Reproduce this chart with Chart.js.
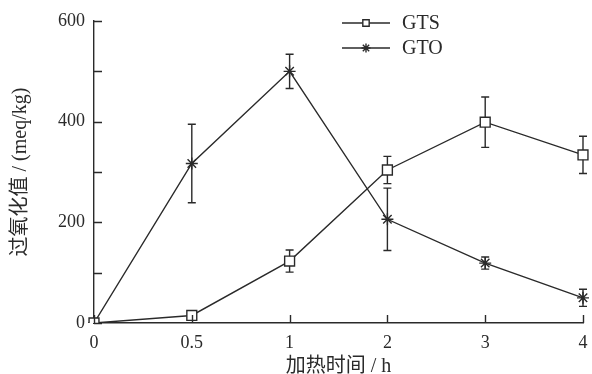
<!DOCTYPE html>
<html><head><meta charset="utf-8">
<script src="https://cdn.jsdelivr.net/npm/chart.js@4/dist/chart.umd.min.js"></script>
<style>html,body{margin:0;padding:0;background:#fff;overflow:hidden}canvas{display:block}</style>
</head><body><canvas id="c" width="592" height="374"></canvas>
<script>
const categories = ['0', '0.5', '1', '2', '3', '4'];
const seriesNames = ['GTS', 'GTO'];
const gtsValues = [0, 15, 123, 304, 399, 334];
const gtsErrors = [0, 5, 22, 27, 50, 37];
const gtoValues = [0, 317, 500, 206, 119, 50];
const gtoErrors = [0, 78, 34, 62, 12, 17];
const yTicks = [0, 200, 400, 600];

const INK = '#2a2a2a';
const FONT = "'Liberation Serif','Noto Sans CJK SC',serif";

const errorBars = {
  id: 'errorBars',
  beforeDatasetsDraw(chart) {
    const ctx = chart.ctx, y = chart.scales.y;
    const errs = [gtsErrors, gtoErrors];
    ctx.save();
    ctx.strokeStyle = INK; ctx.lineWidth = 1.4;
    chart.data.datasets.forEach((ds, i) => {
      const meta = chart.getDatasetMeta(i);
      meta.data.forEach((pt, j) => {
        const e = errs[i][j]; if (!e) return;
        const v = ds.data[j];
        const yt = y.getPixelForValue(v + e), yb = y.getPixelForValue(v - e);
        ctx.beginPath();
        ctx.moveTo(pt.x, yt); ctx.lineTo(pt.x, yb);
        ctx.moveTo(pt.x - 4, yt); ctx.lineTo(pt.x + 4, yt);
        ctx.moveTo(pt.x - 4, yb); ctx.lineTo(pt.x + 4, yb);
        ctx.stroke();
      });
    });
    ctx.restore();
  }
};

const innerTicks = {
  id: 'innerTicks',
  afterDraw(chart) {
    const ctx = chart.ctx, xs = chart.scales.x, ys = chart.scales.y;
    ctx.save();
    ctx.strokeStyle = INK; ctx.lineWidth = 1.4;
    ctx.beginPath();
    ys.ticks.forEach((t, i) => {
      const py = Math.round(ys.getPixelForTick(i)) + 0.5;
      ctx.moveTo(xs.left, py); ctx.lineTo(xs.left + 8, py);
    });
    xs.ticks.forEach((t, i) => {
      const px = Math.round(xs.getPixelForTick(i)) + 0.5;
      ctx.moveTo(px, ys.bottom); ctx.lineTo(px, ys.bottom - 8);
    });
    ctx.stroke();
    ctx.restore();
  }
};

const customLegend = {
  id: 'customLegend',
  afterDraw(chart) {
    const ctx = chart.ctx;
    const styles = ['rect', 'star'];
    const x0 = 342, x1 = 390, xm = 366, tx = 402;
    const rows = [23, 48];
    ctx.save();
    seriesNames.forEach((name, i) => {
      const yy = rows[i];
      ctx.strokeStyle = INK; ctx.lineWidth = 1.4;
      ctx.beginPath(); ctx.moveTo(x0, yy); ctx.lineTo(x1, yy); ctx.stroke();
      ctx.fillStyle = '#fff';
      Chart.helpers.drawPoint(ctx, {pointStyle: styles[i], radius: 4.5, borderWidth: 1.4}, xm, yy);
      ctx.fillStyle = INK;
      ctx.font = "20px " + FONT;
      ctx.textBaseline = 'middle'; ctx.textAlign = 'left';
      ctx.fillText(name, tx, yy + 1);
    });
    ctx.restore();
  }
};

new Chart(document.getElementById('c'), {
  type: 'line',
  data: {
    labels: categories,
    datasets: [
      { label: seriesNames[0], data: gtsValues, borderColor: INK, borderWidth: 1.4,
        pointStyle: 'rect', pointRadius: 7, pointBackgroundColor: '#fff', pointBorderColor: INK, pointBorderWidth: 1.4, tension: 0 },
      { label: seriesNames[1], data: gtoValues, borderColor: INK, borderWidth: 1.4,
        pointStyle: 'star', pointRadius: 6, pointBackgroundColor: '#fff', pointBorderColor: INK, pointBorderWidth: 1.4, tension: 0 }
    ]
  },
  options: {
    responsive: false, animation: false, maintainAspectRatio: false,
    layout: { padding: { top: 21, right: 9, bottom: 0, left: 0 } },
    plugins: { legend: { display: false }, tooltip: { enabled: false } },
    scales: {
      x: {
        type: 'category', offset: false,
        grid: { display: false, drawTicks: false },
        border: { display: true, color: INK, width: 1.4 },
        ticks: { color: INK, font: { family: FONT, size: 18 }, padding: 9, maxRotation: 0, autoSkip: false },
        title: { display: true, text: '加热时间 / h', color: INK, font: { family: FONT, size: 20, lineHeight: 1 }, padding: { top: 0, bottom: -3 } },
        afterFit(s) { s.height = 51; s.paddingLeft = 0; s.paddingRight = 0; }
      },
      y: {
        min: 0, max: 600,
        grid: { display: false, drawTicks: false },
        border: { display: true, color: INK, width: 1.4 },
        ticks: { stepSize: 100, color: INK, font: { family: FONT, size: 18 }, padding: 9,
          callback: v => yTicks.includes(v) ? String(v) : '' },
        title: { display: true, text: '过氧化值 / (meq/kg)', color: INK, font: { family: FONT, size: 20, lineHeight: 1 }, padding: { top: 11, bottom: 0 } },
        afterFit(s) { s.width = 94; s.paddingTop = 0; s.paddingBottom = 0; }
      }
    }
  },
  plugins: [errorBars, innerTicks, customLegend]
});
</script></body></html>
